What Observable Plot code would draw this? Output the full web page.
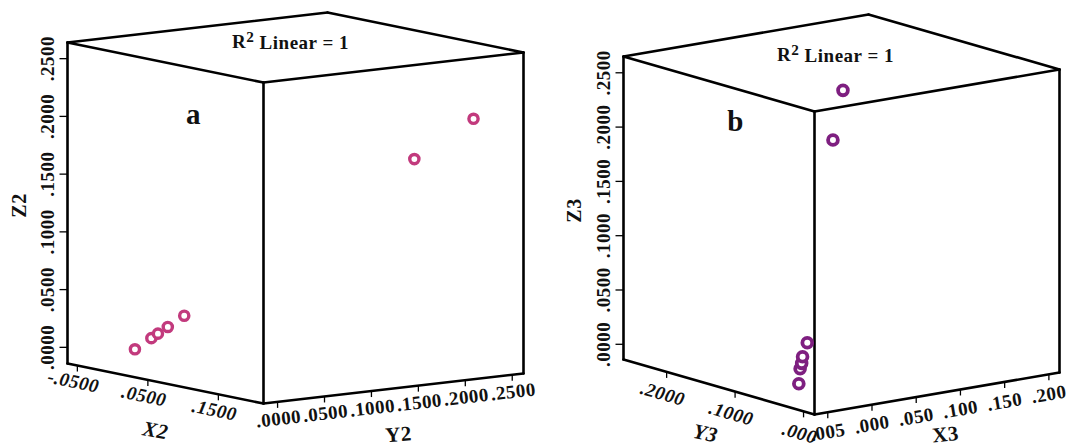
<!DOCTYPE html>
<html>
<head>
<meta charset="utf-8">
<script src="https://cdn.jsdelivr.net/npm/d3@7"></script>
<script src="https://cdn.jsdelivr.net/npm/@observablehq/plot@0.6"></script>
<style>
  html, body { margin: 0; padding: 0; background: #fff; }
  #chart svg { display: block; }
  #chart text { letter-spacing: 0.5px; }
</style>
</head>
<body>
<div id="chart"></div>
<script>
// ---- Panel a: X2, Y2, Z2 ----
const x2 = [0.005, 0.015, 0.019, 0.025, 0.035, 0.175, 0.211];
const y2 = [0.005, 0.015, 0.019, 0.025, 0.035, 0.175, 0.211];
const z2 = [0.005, 0.015, 0.019, 0.025, 0.035, 0.175, 0.211];

// ---- Panel b: X3, Y3, Z3 ----
const x3 = [-0.003, 0.000, 0.001, 0.002, 0.005, 0.041, 0.050];
const y3 = [0.087, 0.089, 0.088, 0.088, 0.085, 0.094, 0.091];
const z3 = [-0.013, 0.000, 0.005, 0.011, 0.024, 0.204, 0.249];

// ---- Tick values and labels ----
const zTicks = [0, 0.05, 0.10, 0.15, 0.20, 0.25];
const zTickLabels = [".0000", ".0500", ".1000", ".1500", ".2000", ".2500"];
const x2Ticks = [-0.05, 0.05, 0.15];
const x2TickLabels = ["-.0500", ".0500", ".1500"];
const y2Ticks = [0, 0.05, 0.10, 0.15, 0.20, 0.25];
const y2TickLabels = [".0000", ".0500", ".1000", ".1500", ".2000", ".2500"];
const y3Ticks = [0.20, 0.10, 0];
const y3TickLabels = [".2000", ".1000", ".000"];
const x3Ticks = [-0.05, 0, 0.05, 0.10, 0.15, 0.20];
const x3TickLabels = [".005", ".000", ".050", ".100", ".150", ".200"];

// ---- Box layout of each 3-D panel (oblique projection) ----
const panels = [
  {
    id: "a", color: "#c23a7d", r: 4.6, sw: 3.4,
    xs: x2, ys: y2, zs: z2,
    origin: [67, 363], ex: [196, 40], ey: [260, -30], ez: [0, -321],
    xDomain: [-0.064, 0.214], yDomain: [-0.015, 0.262], zDomain: [-0.014, 0.264],
    zCorner: [0, 0],
    verticals: [[0, 0], [1, 0], [1, 1]],
    bottom: [[[0, 0], [1, 0]], [[1, 0], [1, 1]]],
    xAxis: {ticks: x2Ticks, labels: x2TickLabels, at: [null, 0], off: [-4, 16], italic: true},
    yAxis: {ticks: y2Ticks, labels: y2TickLabels, at: [1, null], off: [1, 17], italic: false},
    zTitle: {text: "Z2", x: 19, y: 205},
    xTitle: {text: "X2", x: 155, y: 430, italic: true, rotate: 10},
    yTitle: {text: "Y2", x: 398, y: 434, italic: false, rotate: -4},
    title: {x: 290, y: 41},
    letter: {x: 193, y: 114}
  },
  {
    id: "b", color: "#7e1f80", r: 4.9, sw: 3.8,
    xs: x3, ys: y3, zs: z3,
    origin: [814, 414], ex: [245, -42], ey: [-191, -55], ez: [0, -303],
    xDomain: [-0.065, 0.212], yDomain: [-0.016, 0.263], zDomain: [-0.014, 0.265],
    zCorner: [0, 1],
    verticals: [[0, 1], [0, 0], [1, 0]],
    bottom: [[[0, 1], [0, 0]], [[0, 0], [1, 0]]],
    xAxis: {ticks: x3Ticks, labels: x3TickLabels, at: [null, 0], off: [0, 20], italic: false},
    yAxis: {ticks: y3Ticks, labels: y3TickLabels, at: [0, null], off: [-4, 22], italic: true},
    zTitle: {text: "Z3", x: 574, y: 210},
    xTitle: {text: "X3", x: 945, y: 434, italic: false, rotate: -6},
    yTitle: {text: "Y3", x: 705, y: 433, italic: true, rotate: 12},
    title: {x: 835, y: 54},
    letter: {x: 735, y: 121}
  }
];

const FONT = "Liberation Serif, Times New Roman, serif";
const TITLE = "R2 Linear = 1";

const edges = [], dots = [], ticks = [], tickLabels = [], titles = [];

for (const p of panels) {
  const fx = d3.scaleLinear().domain(p.xDomain).range([0, 1]);
  const fy = d3.scaleLinear().domain(p.yDomain).range([0, 1]);
  const fz = d3.scaleLinear().domain(p.zDomain).range([0, 1]);
  // fractional box coordinates -> page position
  const frac = (a, b, c) => [
    p.origin[0] + a * p.ex[0] + b * p.ey[0] + c * p.ez[0],
    p.origin[1] + a * p.ex[1] + b * p.ey[1] + c * p.ez[1]
  ];
  const project = (x, y, z) => frac(fx(x), fy(y), fz(z));
  const seg = (A, B) => {
    const [x1, y1] = frac(...A), [x2_, y2_] = frac(...B);
    edges.push({x1, y1, x2: x2_, y2: y2_});
  };

  // visible box edges
  for (const [a, b] of p.verticals) seg([a, b, 0], [a, b, 1]);
  const top = [[0, 0], [1, 0], [1, 1], [0, 1]];
  for (let i = 0; i < 4; i++) seg([...top[i], 1], [...top[(i + 1) % 4], 1]);
  for (const [A, B] of p.bottom) seg([...A, 0], [...B, 0]);

  // data points
  p.xs.forEach((v, i) => {
    const [px, py] = project(v, p.ys[i], p.zs[i]);
    dots.push({px, py, panel: p.id});
  });

  // Z axis on the back-left vertical edge
  const zx = p.xDomain[p.zCorner[0]], zy = p.yDomain[p.zCorner[1]];
  zTicks.forEach((t, i) => {
    const [px, py] = project(zx, zy, t);
    ticks.push({x1: px - 8, y1: py, x2: px, y2: py});
    tickLabels.push({px: px - 20, py, text: zTickLabels[i], rotate: -90, italic: false});
  });

  // X axis along a bottom edge
  const xa = p.xAxis;
  const xAng = Math.atan2(p.ex[1], p.ex[0]) * 180 / Math.PI;
  xa.ticks.forEach((t, i) => {
    const [px, py] = project(t, p.yDomain[xa.at[1]], p.zDomain[0]);
    ticks.push({x1: px, y1: py, x2: px, y2: py + 6});
    tickLabels.push({px: px + xa.off[0], py: py + xa.off[1], text: xa.labels[i], rotate: xAng, italic: xa.italic});
  });

  // Y axis along the other bottom edge
  const ya = p.yAxis;
  const yAng = Math.atan2(-p.ey[1], -p.ey[0]) * 180 / Math.PI;
  const yRot = Math.abs(yAng) > 90 ? Math.atan2(p.ey[1], p.ey[0]) * 180 / Math.PI : yAng;
  ya.ticks.forEach((t, i) => {
    const [px, py] = project(p.xDomain[ya.at[0]], t, p.zDomain[0]);
    ticks.push({x1: px, y1: py, x2: px, y2: py + 6});
    tickLabels.push({px: px + ya.off[0], py: py + ya.off[1], text: ya.labels[i], rotate: yRot, italic: ya.italic});
  });

  titles.push({px: p.zTitle.x, py: p.zTitle.y, text: p.zTitle.text, rotate: -90, italic: false, size: 20});
  titles.push({px: p.xTitle.x, py: p.xTitle.y, text: p.xTitle.text, rotate: p.xTitle.rotate, italic: p.xTitle.italic, size: 21});
  titles.push({px: p.yTitle.x, py: p.yTitle.y, text: p.yTitle.text, rotate: p.yTitle.rotate, italic: p.yTitle.italic, size: 21});
  titles.push({px: p.title.x, py: p.title.y, text: TITLE, rotate: 0, italic: false, size: 19});
  titles.push({px: p.letter.x, py: p.letter.y, text: p.id, rotate: 0, italic: false, size: 29});
}

const textMarks = (rows, size) => {
  const groups = d3.groups(rows, d => `${d.rotate}|${d.italic}|${d.size || size}`);
  return groups.map(([, g]) => Plot.text(g, {
    x: "px", y: "py", text: "text",
    rotate: g[0].rotate,
    fontSize: g[0].size || size,
    fontWeight: "bold",
    fontStyle: g[0].italic ? "italic" : "normal",
    fontFamily: FONT,
    fill: "#111",
    textAnchor: "middle",
    lineAnchor: "middle"
  }));
};

const chart = Plot.plot({
  width: 1068,
  height: 448,
  margin: 0,
  style: {background: "#fff", fontFamily: FONT},
  x: {domain: [0, 1068], range: [0, 1068], axis: null},
  y: {domain: [0, 448], range: [0, 448], axis: null},
  marks: [
    Plot.link(edges, {x1: "x1", y1: "y1", x2: "x2", y2: "y2", stroke: "#000", strokeWidth: 2.6, strokeLinecap: "round"}),
    Plot.link(ticks, {x1: "x1", y1: "y1", x2: "x2", y2: "y2", stroke: "#000", strokeWidth: 1.3}),
    ...textMarks(tickLabels, 19),
    ...textMarks(titles, 19),
    ...panels.map(p => Plot.dot(dots.filter(d => d.panel === p.id), {
      x: "px", y: "py", r: p.r, stroke: p.color, strokeWidth: p.sw, fill: "#fff"
    }))
  ]
});

// R-squared title: raise the "2" as a superscript
d3.select(chart).selectAll("text").filter(function () { return this.textContent === TITLE; })
  .each(function () {
    const t = d3.select(this);
    t.text(null);
    t.append("tspan").text("R");
    t.append("tspan").attr("dy", "-0.4em").attr("font-size", "0.8em").text("2");
    t.append("tspan").attr("dy", "0.4em").text(" Linear = 1");
  });

document.getElementById("chart").appendChild(chart);
</script>
</body>
</html>
